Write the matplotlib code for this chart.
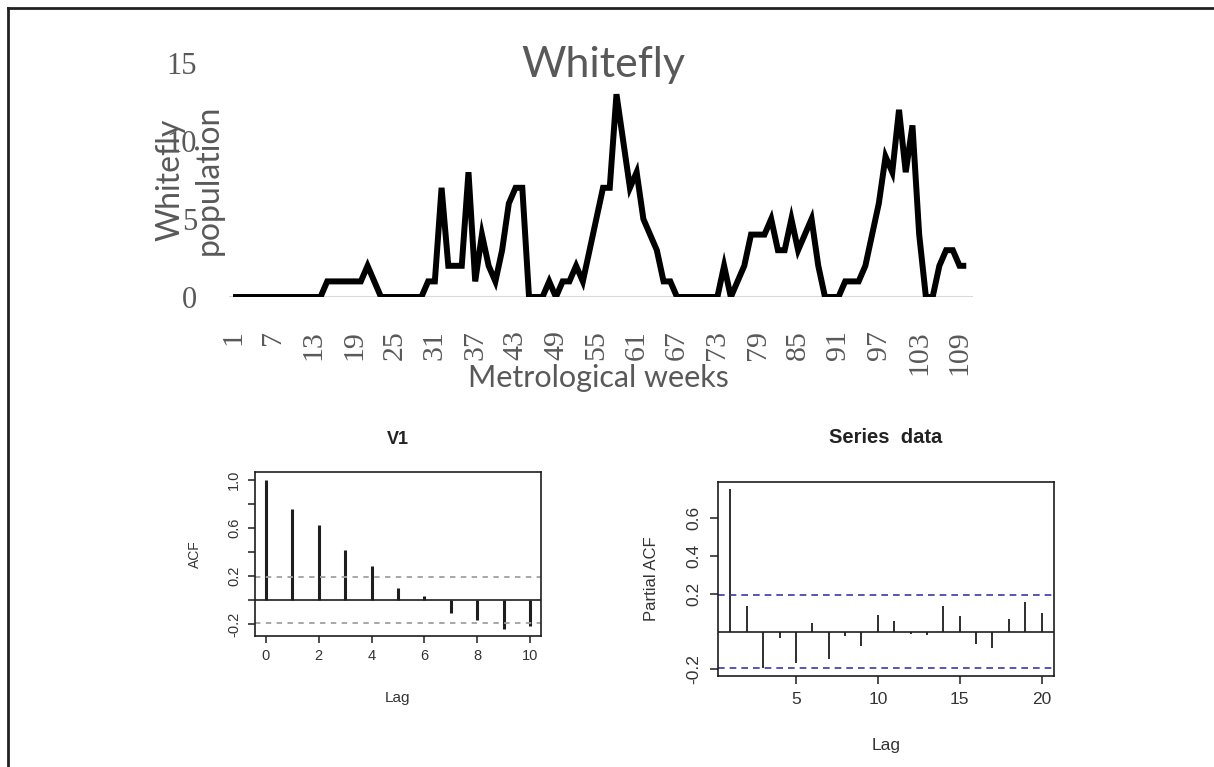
import numpy as np
import matplotlib
matplotlib.use('Agg')
from matplotlib import pyplot as plt
from matplotlib.lines import Line2D

# weekly whitefly counts (weeks 1..110)
population = [0, 0, 0, 0, 0, 0, 0, 0, 0, 0, 0, 0, 0, 0,
              1, 1, 1, 1, 1, 1, 2, 1,
              0, 0, 0, 0, 0, 0, 0,
              1, 1, 7, 2, 2, 2, 8, 1, 4, 2, 1, 3, 6, 7, 7,
              0, 0, 0, 1, 0, 1, 1, 2, 1, 3, 5, 7, 7, 13, 10, 7, 8, 5, 4, 3, 1, 1,
              0, 0, 0, 0, 0, 0, 0,
              2, 0, 1, 2, 4, 4, 4, 5, 3, 3, 5, 3, 4, 5, 2, 0, 0, 0,
              1, 1, 1, 2, 4, 6, 9, 8, 12, 8, 11, 4, 0, 0, 2, 3, 3, 2, 2]
weeks = np.arange(1, len(population) + 1)
week_ticks = list(range(1, 110, 6))

acf_lags = list(range(0, 11))
acf_vals = [1.0, 0.755, 0.62, 0.42, 0.285, 0.10, 0.03, -0.11, -0.17, -0.24, -0.215]

pacf_lags = list(range(1, 21))
pacf_vals = [0.755, 0.136, -0.195, -0.035, -0.165, 0.048, -0.147, -0.021, -0.076, 0.087,
             0.058, -0.014, -0.019, 0.136, 0.085, -0.065, -0.088, 0.069, 0.159, 0.097]
conf = 0.195

W, H = 1214, 767
fig = plt.figure(figsize=(W / 100, H / 100), dpi=100)
plt.rcParams['font.family'] = ['Liberation Sans', 'DejaVu Sans']
gray = '#595959'

def fx(px): return px / W
def fy(py): return 1 - py / H

# frame lines (top and left only)
fig.add_artist(Line2D([fx(8), 1], [fy(8), fy(8)], color='#222222', lw=2))
fig.add_artist(Line2D([fx(8), fx(8)], [fy(8), 0], color='#222222', lw=2))

# ---- top line chart ----
ax = fig.add_axes([fx(229), fy(297), fx(973) - fx(229), fy(63) - fy(297)])
ax.plot(weeks, population, color='black', lw=4.3, solid_joinstyle='miter', solid_capstyle='butt')
ax.axhline(0, color='#d9d9d9', lw=1.5, zorder=0)
ax.set_xlim(0.4, 111)
ax.set_ylim(0, 15)
for s in ax.spines.values():
    s.set_visible(False)
ax.set_yticks([0, 5, 10, 15])
ax.set_yticklabels(['0', '5', '10', '15'], family='Liberation Serif', fontsize=22, color=gray)
ax.set_xticks(week_ticks)
ax.set_xticklabels([str(w) for w in week_ticks], rotation=90, family='Liberation Serif',
                   fontsize=21.5, color=gray)
ax.tick_params(axis='y', length=0, pad=23)
ax.tick_params(axis='x', length=0, pad=24)
ax.patch.set_alpha(0)

fig.text(fx(603), fy(65), 'Whitefly', ha='center', va='center', family='Lato', fontsize=31, color=gray)
fig.text(fx(598), fy(378), 'Metrological weeks', ha='center', va='center', family='Lato',
         fontsize=22, color=gray)
fig.text(fx(190), fy(180), 'Whitefly\npopulation', ha='center', va='center', rotation=90,
         family='Lato', fontsize=23, color=gray, linespacing=1.35, multialignment='center')

# ---- ACF panel ----
ink = '#1e1e1e'
a1 = fig.add_axes([fx(255), fy(635.5), fx(541) - fx(255), fy(472) - fy(635.5)])
a1.vlines(acf_lags, 0, acf_vals, color=ink, lw=2.2)
a1.axhline(0, color=ink, lw=1.2)
a1.axhline(conf, color='#a0a0a0', lw=1.3, ls=(0, (3, 3)))
a1.axhline(-conf, color='#a0a0a0', lw=1.3, ls=(0, (3, 3)))
a1.set_xlim(-0.4, 10.4)
a1.set_ylim(-0.295, 1.065)
a1.set_xticks(range(0, 11, 2))
a1.set_yticks([-0.2, 0.0, 0.2, 0.4, 0.6, 0.8, 1.0])
a1.set_yticklabels(['-0.2', '', '0.2', '', '0.6', '', '1.0'], rotation=90, va='center')
a1.tick_params(labelsize=10.5, color=ink, labelcolor='#333333', length=5, width=1.1, pad=5)
for s in a1.spines.values():
    s.set_color(ink)
    s.set_linewidth(1.2)
a1.set_xlabel('Lag', fontsize=11, color='#333333', labelpad=20)
a1.set_ylabel('ACF', fontsize=10, color='#333333', labelpad=18)
a1.set_title('V1', fontsize=13, fontweight='bold', color='#222222', pad=20)

# ---- PACF panel ----
a2 = fig.add_axes([fx(718), fy(675.7), fx(1054) - fx(718), fy(482) - fy(675.7)])
a2.vlines(pacf_lags, 0, pacf_vals, color=ink, lw=1.3)
a2.axhline(0, color=ink, lw=1.2)
a2.axhline(conf, color='#3a3aa8', lw=1.2, ls=(0, (4, 3)))
a2.axhline(-conf, color='#3a3aa8', lw=1.2, ls=(0, (4, 3)))
a2.set_xlim(0.24, 20.76)
a2.set_ylim(-0.234, 0.793)
a2.set_xticks([5, 10, 15, 20])
a2.set_yticks([-0.2, 0.2, 0.4, 0.6])
a2.set_yticklabels(['-0.2', '0.2', '0.4', '0.6'], rotation=90, va='center')
a2.tick_params(labelsize=12.5, color=ink, labelcolor='#333333', length=6, width=1.1, pad=6)
for s in a2.spines.values():
    s.set_color(ink)
    s.set_linewidth(1.2)
a2.set_xlabel('Lag', fontsize=12.5, color='#333333', labelpad=22)
a2.set_ylabel('Partial ACF', fontsize=12, color='#333333', labelpad=20)
a2.set_title('Series  data', fontsize=14.5, fontweight='bold', color='#222222', pad=28)

fig.savefig('out.png', dpi=100)
